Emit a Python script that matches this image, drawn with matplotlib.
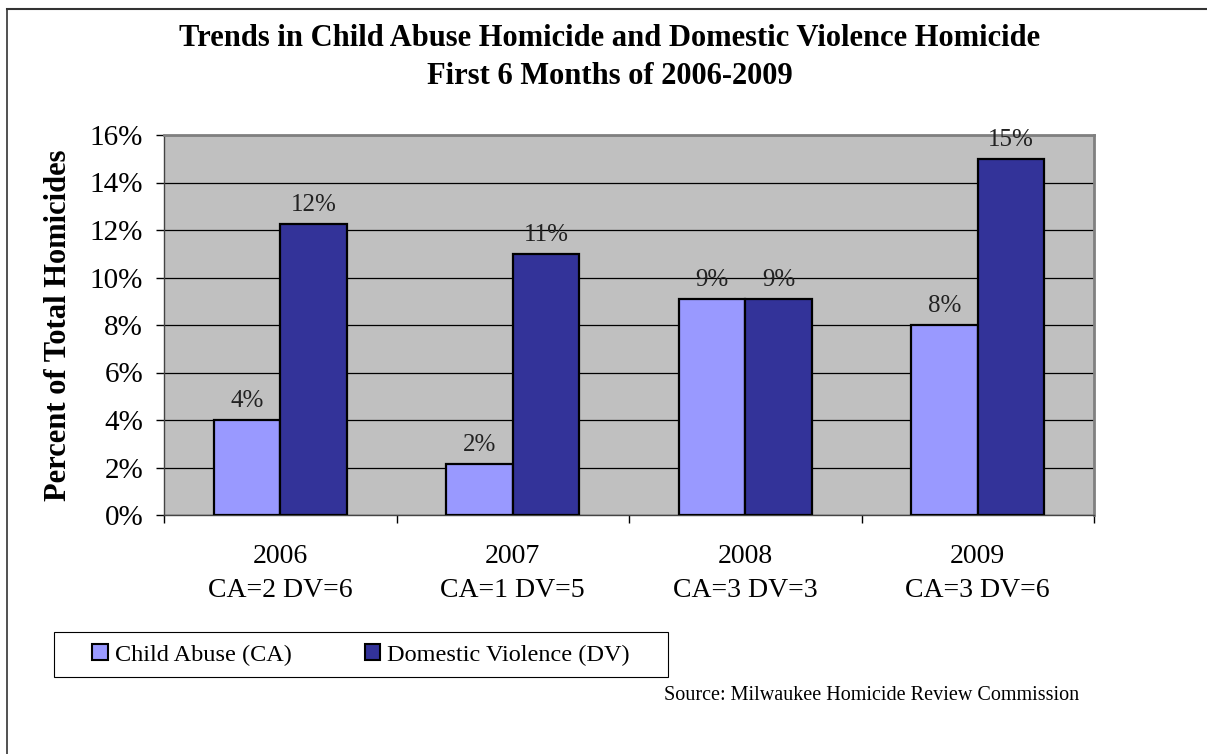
import numpy as np
import matplotlib.pyplot as plt
from matplotlib.lines import Line2D
from matplotlib.patches import Rectangle
from matplotlib.ticker import FixedLocator, FuncFormatter

years = ["2006", "2007", "2008", "2009"]
counts = ["CA=2 DV=6", "CA=1 DV=5", "CA=3 DV=3", "CA=3 DV=6"]
child_abuse = [4.0, 2.15, 9.09, 8.0]
domestic_violence = [12.24, 10.98, 9.09, 15.0]
ca_labels = ["4%", "2%", "9%", "8%"]
dv_labels = ["12%", "11%", "9%", "15%"]

plt.rcParams["font.family"] = ["Liberation Serif", "DejaVu Serif"]

W, H = 1207, 754
fig = plt.figure(figsize=(W / 100, H / 100), dpi=100)
ax = fig.add_axes([164 / W, 239 / H, 930 / W, 380 / H])
ax.set_facecolor("#C0C0C0")

x = np.arange(len(years))
w = 0.285
ax.bar(x - w / 2, child_abuse, w, color="#9999FF", edgecolor="black",
       linewidth=1.6, label="Child Abuse (CA)", zorder=3)
ax.bar(x + w / 2, domestic_violence, w, color="#333399", edgecolor="black",
       linewidth=1.6, label="Domestic Violence (DV)", zorder=3)

for i in range(len(years)):
    ax.text(x[i] - w / 2, child_abuse[i] + 0.8, ca_labels[i], ha="center",
            va="center", fontsize=18, color="#222222")
    ax.text(x[i] + w / 2, domestic_violence[i] + 0.8, dv_labels[i], ha="center",
            va="center", fontsize=18, color="#222222")

ax.set_xlim(-0.5, 3.5)
ax.set_ylim(0, 16)
ax.set_yticks(np.arange(0, 17, 2))
ax.yaxis.set_major_formatter(FuncFormatter(lambda v, p: f"{v:.0f}%"))
ax.yaxis.grid(True, color="black", linewidth=0.9, zorder=1)
ax.set_axisbelow(True)
ax.tick_params(axis="y", labelsize=21, length=6, width=1, pad=9)

ax.set_xticks(x)
ax.set_xticklabels([f"{y}\n{c}" for y, c in zip(years, counts)], fontsize=20,
                   linespacing=1.45)
ax.xaxis.set_minor_locator(FixedLocator(np.arange(-0.5, 3.6, 1)))
ax.tick_params(axis="x", which="major", length=0, pad=21)
ax.tick_params(axis="x", which="minor", length=6, width=1, direction="out")

for side in ["top", "right"]:
    ax.spines[side].set_color("#808080")
    ax.spines[side].set_linewidth(2)
for side in ["left", "bottom"]:
    ax.spines[side].set_color("#444444")
    ax.spines[side].set_linewidth(1)

ax.set_ylabel("Percent of Total Homicides", fontsize=22, fontweight="bold")
ax.yaxis.set_label_coords((73 - 164) / 930, 0.5)

fig.text(610 / W, 1 - 39 / H,
         "Trends in Child Abuse Homicide and Domestic Violence Homicide",
         ha="center", va="center", fontsize=22, fontweight="bold")
fig.text(610 / W, 1 - 76 / H, "First 6 Months of 2006-2009",
         ha="center", va="center", fontsize=22, fontweight="bold")

# legend without its own frame, box drawn separately
leg = fig.legend(loc="center", bbox_to_anchor=(361 / W, 1 - 655 / H),
                 ncol=2, fontsize=17.5, frameon=False,
                 handlelength=0.62, handleheight=0.62,
                 handletextpad=0.3, columnspacing=3.0)
for h in leg.legend_handles:
    h.set_linewidth(1.5)
fig.add_artist(Rectangle((54 / W, 1 - 677 / H), 614 / W, 45 / H,
                         transform=fig.transFigure, facecolor="none",
                         edgecolor="black", linewidth=0.8))

fig.text(872 / W, 1 - 696 / H, "Source: Milwaukee Homicide Review Commission",
         ha="center", va="center", fontsize=14.5)

# figure border (top and left edges)
fig.add_artist(Line2D([7 / W, 1], [1 - 9 / H, 1 - 9 / H],
                      transform=fig.transFigure, color="#333333", linewidth=1.5))
fig.add_artist(Line2D([7 / W, 7 / W], [0, 1 - 9 / H],
                      transform=fig.transFigure, color="#333333", linewidth=1.2))

fig.savefig("out.png", dpi=100)
